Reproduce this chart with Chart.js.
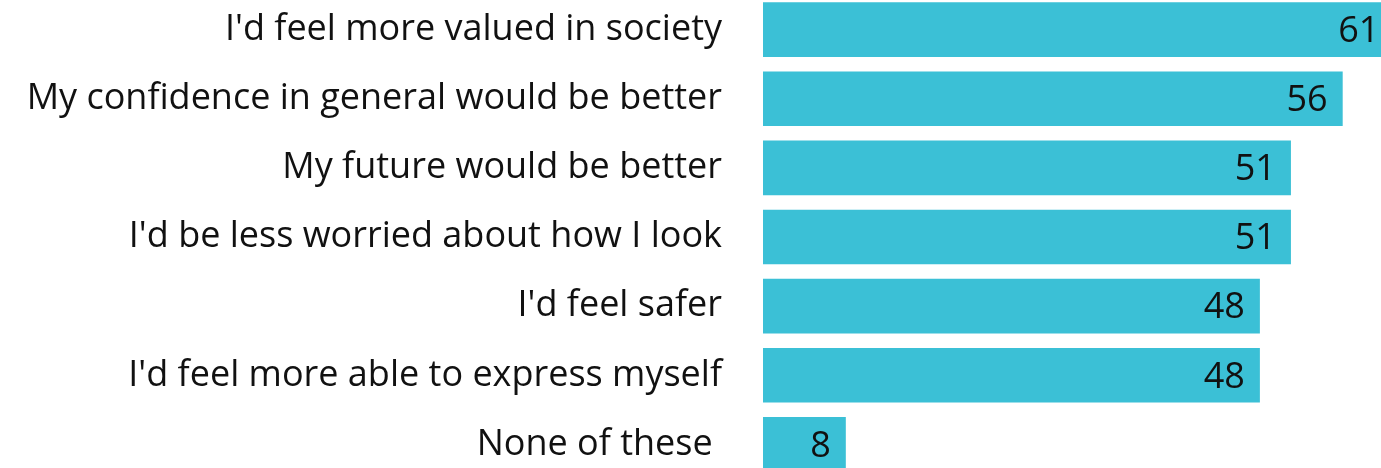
<!DOCTYPE html>
<html lang="en">
<head>
<meta charset="UTF-8">
<title>Bar chart</title>
<script src="https://cdn.jsdelivr.net/npm/chart.js"></script>
<style>
    html, body { margin: 0; padding: 0; background: #fff; overflow: hidden; }
    #wrap { position: absolute; left: 0; top: -5px; width: 1381px; height: 484px; }
</style>
</head>
<body>
<div id="wrap">
    <canvas id="myChart"></canvas>
</div>
<script>
    const labels = [
        "I'd feel more valued in society",
        'My confidence in general would be better',
        'My future would be better',
        "I'd be less worried about how I look",
        "I'd feel safer",
        "I'd feel more able to express myself",
        'None of these '
    ];
    const values = [61, 56, 51, 51, 48, 48, 8];

    const FONT = '"Open Sans", Lato, sans-serif';
    const FONT_SIZE = 36;

    // value labels drawn inside the bar end
    const barValues = {
        id: 'barValues',
        afterDatasetsDraw(chart) {
            const ctx = chart.ctx;
            const meta = chart.getDatasetMeta(0);
            ctx.save();
            ctx.font = FONT_SIZE + 'px ' + FONT;
            ctx.fillStyle = '#111';
            ctx.textAlign = 'right';
            ctx.textBaseline = 'middle';
            meta.data.forEach((bar, i) => {
                ctx.fillText(String(values[i]), bar.x - 15, bar.y + 2);
            });
            ctx.restore();
        }
    };

    new Chart(document.getElementById('myChart'), {
        type: 'bar',
        data: {
            labels: labels,
            datasets: [{
                data: values,
                backgroundColor: '#3bc0d6',
                borderWidth: 0,
                categoryPercentage: 0.79,
                barPercentage: 1
            }]
        },
        options: {
            indexAxis: 'y',
            responsive: true,
            maintainAspectRatio: false,
            animation: false,
            layout: { padding: 0 },
            plugins: {
                legend: { display: false },
                tooltip: { enabled: false }
            },
            scales: {
                x: {
                    display: false,
                    min: 0,
                    max: 59.7
                },
                y: {
                    grid: { display: false, drawTicks: false },
                    border: { display: false },
                    ticks: {
                        padding: 41,
                        color: '#111',
                        font: { family: FONT, size: FONT_SIZE }
                    },
                    afterFit(scale) {
                        scale.width = 763;
                        scale.paddingTop = 0;
                        scale.paddingBottom = 0;
                    }
                }
            }
        },
        plugins: [barValues]
    });
</script>
</body>
</html>
